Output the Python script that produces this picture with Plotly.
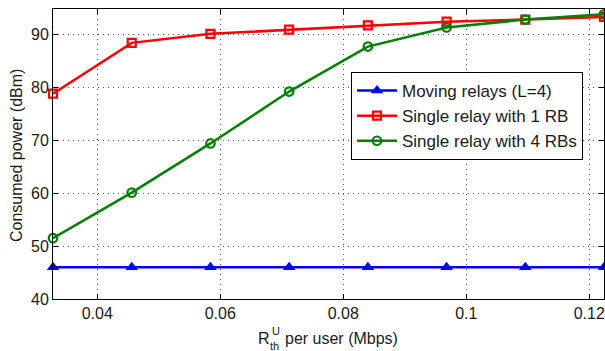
import plotly.graph_objects as go

# Data
rate = [0.0328, 0.0456, 0.0584, 0.0712, 0.0840, 0.0968, 0.1096, 0.1224]
moving_relays = [46.0, 46.0, 46.0, 46.0, 46.0, 46.0, 46.0, 46.0]
single_1rb = [78.8, 88.4, 90.1, 90.9, 91.7, 92.4, 92.8, 93.3]
single_4rb = [51.5, 60.1, 69.4, 79.2, 87.7, 91.3, 92.8, 93.8]
x_ticks = [0.04, 0.06, 0.08, 0.1, 0.12]
x_tick_text = ["0.04", "0.06", "0.08", "0.1", "0.12"]
y_ticks = [40, 50, 60, 70, 80, 90]

W, H = 605, 351
L, R, T, B = 53, 1, 9, 52
pw, ph = W - L - R, H - T - B

def px(x):
    return (x - L) / pw

def py(y):
    return (H - B - y) / ph

fig = go.Figure()
fig.add_trace(go.Scatter(
    x=rate, y=moving_relays, name="Moving relays (L=4)", mode="lines+markers",
    line=dict(color="#0000FF", width=2.5),
    marker=dict(symbol="triangle-up", size=11, color="#0000FF"),
    cliponaxis=False))
fig.add_trace(go.Scatter(
    x=rate, y=single_1rb, name="Single relay with 1 RB", mode="lines+markers",
    line=dict(color="#FF0000", width=2.5),
    marker=dict(symbol="square-open", size=8, color="#FF0000", line=dict(width=2.2, color="#FF0000")),
    cliponaxis=False))
fig.add_trace(go.Scatter(
    x=rate, y=single_4rb, name="Single relay with 4 RBs", mode="lines+markers",
    line=dict(color="#008000", width=2.5),
    marker=dict(symbol="circle-open", size=8.5, color="#008000", line=dict(width=2.2, color="#008000")),
    cliponaxis=False))

axis_common = dict(
    showline=True, linecolor="black", linewidth=1, mirror="ticks",
    ticks="inside", ticklen=5, tickcolor="black",
    showgrid=True, gridcolor="#555555", griddash="1px,4px", gridwidth=1,
    zeroline=False,
    tickfont=dict(family="Liberation Sans, Arial", size=16, color="#1a1a1a"),
)

fig.update_xaxes(range=[rate[0], rate[-1]], tickvals=x_ticks, ticktext=x_tick_text, **axis_common)
fig.update_yaxes(range=[40, 94.8], tickvals=y_ticks, **axis_common)

font_fam = "Liberation Sans, Arial"
annos = [
    dict(text="Consumed power (dBm)", x=px(16), y=py(156), textangle=-90,
         xanchor="center", yanchor="middle", font=dict(size=16)),
    dict(text="R", x=px(257), y=py(338), xanchor="left", yanchor="middle", font=dict(size=16)),
    dict(text="U", x=px(276), y=py(331), xanchor="center", yanchor="middle", font=dict(size=11)),
    dict(text="th", x=px(274), y=py(346), xanchor="center", yanchor="middle", font=dict(size=11)),
    dict(text="per user (Mbps)", x=px(284), y=py(338), xanchor="left", yanchor="middle", font=dict(size=16)),
]
for a in annos:
    a.update(xref="paper", yref="paper", showarrow=False)
    a["font"].update(family=font_fam, color="#1a1a1a")
    a["borderpad"] = 0
fig.update_layout(annotations=annos)

fig.update_layout(
    width=W, height=H,
    margin=dict(l=L, r=R, t=T, b=B, pad=0),
    paper_bgcolor="white", plot_bgcolor="white",
    font=dict(family=font_fam, size=16, color="#1a1a1a"),
    legend=dict(
        x=px(351), y=py(72), xanchor="left", yanchor="top",
        bgcolor="white", bordercolor="black", borderwidth=1,
        font=dict(family=font_fam, size=17, color="#1a1a1a"),
        itemwidth=40, tracegroupgap=0,
    ),
)

fig.write_html("out.html")
